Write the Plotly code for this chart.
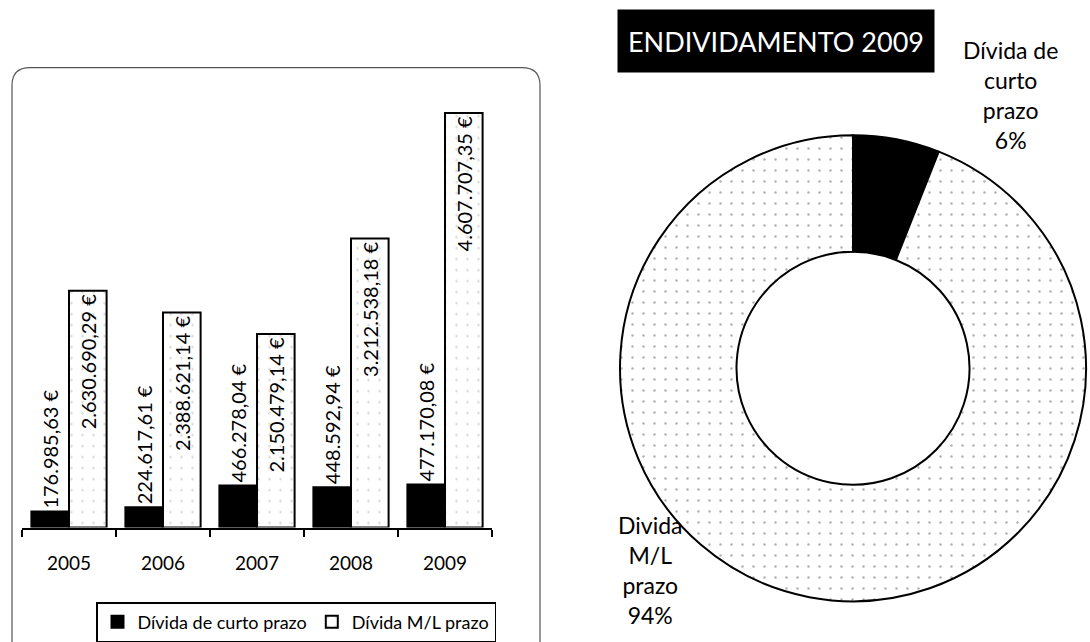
import plotly.graph_objects as go

years = ["2005", "2006", "2007", "2008", "2009"]
curto_prazo = [176985.63, 224617.61, 466278.04, 448592.94, 477170.08]
ml_prazo = [2630690.29, 2388621.14, 2150479.14, 3212538.18, 4607707.35]
series_names = ["Dívida de curto prazo", "Dívida M/L prazo"]

pie_labels = ["Dívida de curto prazo", "Divida M/L prazo"]
pie_values = [6, 94]

FONT = "Lato"


def eur(v):
    s = f"{v:,.2f}"
    s = s.replace(",", "X").replace(".", ",").replace("X", ".")
    return s + " €"


dots = dict(shape=".", fgcolor="#b0b0b0", bgcolor="white", size=11, solidity=0.04)

fig = go.Figure()

fig.add_trace(go.Bar(
    x=years, y=curto_prazo, name=series_names[0],
    marker=dict(color="black", line=dict(color="black", width=2)),
    text=[eur(v) for v in curto_prazo], textposition="outside",
    textangle=-90, textfont=dict(family=FONT, size=20, color="black"),
    cliponaxis=False, constraintext="none",
))
fig.add_trace(go.Bar(
    x=years, y=ml_prazo, name=series_names[1],
    marker=dict(color="white", line=dict(color="black", width=2), pattern=dots),
    text=[eur(v) for v in ml_prazo], textposition="inside",
    insidetextanchor="end", textangle=-90,
    textfont=dict(family=FONT, size=20, color="black"),
    cliponaxis=False, constraintext="none",
))

fig.add_trace(go.Pie(
    labels=pie_labels, values=pie_values, sort=False, direction="clockwise",
    rotation=0, hole=0.5, textinfo="none", showlegend=False,
    hoverinfo="label+percent",
    marker=dict(colors=["black", "white"], line=dict(color="black", width=2),
                pattern=dict(shape=["", "."], fgcolor="#b0b0b0", bgcolor="white",
                             size=11, solidity=0.04)),
    domain=dict(x=[620 / 1090, 1086 / 1090], y=[36 / 642, 508 / 642]),
))

# rounded frame of the bar chart
W, H = 1090, 642
x0, x1 = 12 / W, 540 / W
yt, yb = 1 - 68 / H, -0.05
rx, ry = 18 / W, 18 / H
path = (f"M {x0},{yb} L {x0},{yt - ry} Q {x0},{yt} {x0 + rx},{yt} "
        f"L {x1 - rx},{yt} Q {x1},{yt} {x1},{yt - ry} L {x1},{yb}")
fig.add_shape(type="path", path=path, xref="paper", yref="paper",
              line=dict(color="#555", width=1.2))

fig.add_annotation(
    text="ENDIVIDAMENTO 2009", x=776 / W, y=1 - 41 / H, xref="paper", yref="paper",
    xanchor="center", yanchor="middle",
    showarrow=False, bgcolor="black", width=306, height=52, borderpad=5,
    font=dict(family=FONT, size=27, color="white"),
)
fig.add_annotation(
    text="Dívida de<br>curto<br>prazo<br>6%", x=1010 / W, y=1 - 95 / H,
    xref="paper", yref="paper", xanchor="center", yanchor="middle",
    showarrow=False, align="center",
    font=dict(family=FONT, size=23, color="black"),
)
fig.add_annotation(
    text="Divida<br>M/L<br>prazo<br>94%", x=650 / W, y=1 - 573 / H,
    xref="paper", yref="paper", xanchor="center", yanchor="middle",
    showarrow=False, align="center",
    font=dict(family=FONT, size=23, color="black"),
)

fig.update_layout(
    width=W, height=H,
    margin=dict(l=0, r=0, t=0, b=0),
    paper_bgcolor="white", plot_bgcolor="white",
    barmode="group", bargap=0.2, bargroupgap=0,
    font=dict(family=FONT, color="black"),
    xaxis=dict(domain=[22 / W, 492 / W], showline=True, linecolor="black",
               linewidth=2, ticks="outside", tickson="boundaries", ticklen=7,
               tickwidth=1.5, tickcolor="black", ticklabelstandoff=18,
               tickfont=dict(family=FONT, size=19, color="black"),
               showgrid=False, zeroline=False),
    yaxis=dict(domain=[112 / H, 564 / H], range=[0, 5000000], visible=False,
               showgrid=False),
    legend=dict(orientation="h", x=96 / W, y=1 - 605 / H, xanchor="left",
                yanchor="top", bordercolor="black", borderwidth=1.5,
                bgcolor="white", font=dict(family=FONT, size=18, color="black"),
                itemwidth=30, tracegroupgap=0),
)

fig.write_html("out.html", config={"displayModeBar": False},
               post_script="document.body.style.margin='0';document.body.style.overflow='hidden';")
